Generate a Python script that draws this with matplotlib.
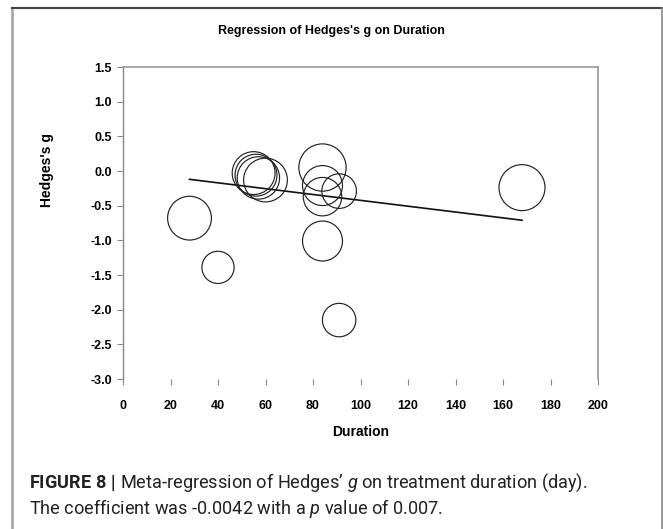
import numpy as np
import matplotlib.pyplot as plt
from matplotlib.lines import Line2D

# study-level data
duration = [28, 40, 55, 56, 57, 60, 84, 84, 84, 91, 84, 91, 168]
hedges_g = [-0.68, -1.39, -0.03, -0.06, -0.10, -0.13, 0.05, -0.21, -0.37, -0.29, -1.01, -2.15, -0.24]
weights = [48, 26, 46, 44, 45, 48, 56, 40, 37, 30, 40, 28, 53]

# fitted regression line (end points)
reg_x = [28, 168]
reg_y = [-0.12, -0.71]

xticks = np.arange(0, 201, 20)
yticks = np.arange(-3.0, 1.51, 0.5)

plt.rcParams['mathtext.fontset'] = 'custom'
plt.rcParams['mathtext.rm'] = 'Roboto'
plt.rcParams['mathtext.it'] = 'Roboto:italic'
plt.rcParams['mathtext.bf'] = 'Roboto:bold'

W, H = 663, 529
fig = plt.figure(figsize=(W / 100, H / 100), dpi=100)
ax = fig.add_axes([123 / W, 1 - 379 / H, (598 - 123) / W, (379 - 67) / H])

ax.scatter(duration, hedges_g, s=np.array(weights) * 20.7, facecolors='none',
           edgecolors='#222222', linewidths=0.85, zorder=3)
ax.plot(reg_x, reg_y, color='#111111', lw=1.2, zorder=2)

ax.set_xlim(0, 200)
ax.set_ylim(-3.0, 1.5)
ax.set_xticks(xticks)
ax.set_yticks(yticks)
ax.set_yticklabels([f'{v:.1f}' for v in yticks])

for side in ['top', 'right']:
    ax.spines[side].set_color('#999999')
    ax.spines[side].set_linewidth(1.2)
ax.spines['left'].set_color('#888888')
ax.spines['left'].set_linewidth(1.0)
ax.spines['bottom'].set_visible(False)

ax.tick_params(axis='both', direction='out', length=4, width=0.8, color='#888888',
               labelsize=9)
ax.tick_params(axis='x', pad=11)
ax.tick_params(axis='y', pad=4)
for lbl in ax.get_xticklabels() + ax.get_yticklabels():
    lbl.set_fontweight('bold')
    lbl.set_family('Liberation Sans')

ax.set_ylabel("Hedges's g", fontsize=10, fontweight='bold', family='Liberation Sans')
ax.yaxis.set_label_coords(-0.145, 0.67)
fig.text(361 / W, 1 - 432 / H, 'Duration', ha='center', va='center',
         fontsize=10, fontweight='bold', family='Liberation Sans')
fig.text(331 / W, 1 - 31 / H, "Regression of Hedges's g on Duration", ha='center', va='center',
         fontsize=9, fontweight='bold', family='Liberation Sans')

# caption
fig.text(29 / W, 1 - 483 / H, r"$\mathbf{FIGURE\ 8\ |}$ Meta-regression of Hedges’ $g$ on treatment duration (day).",
         ha='left', va='center', fontsize=13.1, family='Roboto', color='#222222')
fig.text(29 / W, 1 - 508 / H, r"The coefficient was -0.0042 with a $p$ value of 0.007.",
         ha='left', va='center', fontsize=13.1, family='Roboto', color='#222222')

# outer frame
fig.add_artist(Line2D([12 / W, 12 / W], [0, 1 - 8 / H], color='#aaaaaa', lw=2))
fig.add_artist(Line2D([12 / W, 1], [1 - 8 / H, 1 - 8 / H], color='#444444', lw=1.5))
fig.add_artist(Line2D([662 / W, 662 / W], [0, 1 - 8 / H], color='#888888', lw=1.2))

fig.savefig('out.png', dpi=100)
